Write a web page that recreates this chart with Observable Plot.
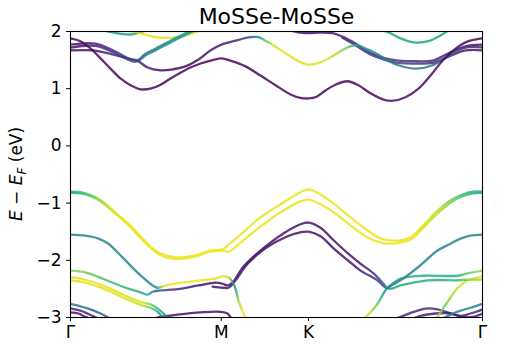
<!DOCTYPE html>
<html><head><meta charset="utf-8">
<script src="https://cdn.jsdelivr.net/npm/d3@7"></script>
<script src="https://cdn.jsdelivr.net/npm/@observablehq/plot@0.6"></script>
<style>body{margin:0;background:#fff} svg{font-family:"DejaVu Sans",sans-serif}</style>
</head><body><div id="chart"></div>
<script>
const title = "MoSSe-MoSSe";
const kTicks = [0, 0.577, 0.911, 1.577];
const kLabels = ["Γ", "M", "K", "Γ"];
const eTicks = [-3, -2, -1, 0, 1, 2];

// each band: [k, E (eV), projection weight 0..1]
const c1 = [[0,1.88,0.02],[0.038,1.83,0.02],[0.077,1.70,0.02],[0.115,1.53,0.02],[0.153,1.35,0.02],[0.191,1.18,0.02],[0.230,1.06,0.02],[0.268,0.99,0.02],[0.306,1.00,0.02],[0.345,1.07,0.02],[0.383,1.18,0.02],[0.421,1.28,0.02],[0.459,1.37,0.02],[0.498,1.44,0.02],[0.536,1.49,0.02],[0.578,1.53,0.02],[0.612,1.49,0.02],[0.670,1.39,0.02],[0.727,1.23,0.02],[0.785,1.06,0.02],[0.842,0.90,0.02],[0.880,0.84,0.02],[0.911,0.83,0.02],[0.942,0.86,0.02],[0.976,0.97,0.02],[1.014,1.07,0.02],[1.060,1.13,0.02],[1.102,1.06,0.02],[1.148,0.92,0.02],[1.198,0.81,0.04],[1.236,0.79,0.05],[1.282,0.85,0.05],[1.332,1.00,0.04],[1.378,1.23,0.03],[1.424,1.49,0.02],[1.474,1.70,0.02],[1.512,1.81,0.02],[1.550,1.86,0.02],[1.577,1.88,0.02]];
const c2 = [[0,1.67,0.05],[0.088,1.67,0.05],[0.142,1.62,0.1],[0.218,1.53,0.15],[0.256,1.49,0.15],[0.295,1.37,0.05],[0.345,1.32,0.03],[0.394,1.34,0.03],[0.440,1.39,0.03],[0.490,1.51,0.03],[0.536,1.67,0.05],[0.578,1.77,0.08],[0.632,1.84,0.1],[0.689,1.90,0.25],[0.720,1.90,0.5],[0.746,1.84,0.75],[0.773,1.77,0.92],[0.823,1.62,0.95],[0.873,1.48,0.95],[0.911,1.42,0.95],[0.957,1.46,0.95],[1.014,1.60,0.9],[1.060,1.72,0.75],[1.099,1.76,0.6],[1.129,1.70,0.5],[1.156,1.65,0.45],[1.217,1.49,0.4],[1.255,1.41,0.4],[1.321,1.35,0.4],[1.386,1.41,0.38],[1.447,1.58,0.3],[1.512,1.72,0.15],[1.577,1.72,0.08]];
const c3 = [[0,1.77,0.05],[0.096,1.79,0.08],[0.172,1.65,0.15],[0.249,1.49,0.33],[0.287,1.61,0.42],[0.325,1.70,0.45],[0.383,1.84,0.5],[0.440,1.97,0.55],[0.467,2.02,0.6]];
const c3b = [[0,1.72,0.05],[0.096,1.75,0.08],[0.172,1.62,0.15],[0.249,1.47,0.33],[0.287,1.58,0.42],[0.325,1.67,0.45],[0.383,1.81,0.5],[0.440,1.94,0.55],[0.475,2.02,0.6]];
const c4 = [[0.820,2.04,0.05],[0.880,1.98,0.05],[0.911,1.97,0.05],[0.949,1.98,0.05],[1.003,1.97,0.08],[1.041,1.91,0.1],[1.091,1.79,0.15],[1.148,1.63,0.2],[1.206,1.53,0.2],[1.255,1.49,0.15],[1.321,1.48,0.12],[1.386,1.49,0.1],[1.447,1.62,0.08],[1.512,1.74,0.05],[1.577,1.77,0.05]];
const c4b = [[1.041,1.89,0.1],[1.091,1.76,0.15],[1.148,1.60,0.15],[1.206,1.50,0.2],[1.255,1.45,0.2],[1.321,1.44,0.15],[1.386,1.45,0.12],[1.447,1.56,0.1],[1.512,1.67,0.05],[1.577,1.67,0.05]];
const t1 = [[0.211,2.02,0.95],[0.268,1.97,0.95],[0.325,1.90,0.95],[0.383,1.89,0.95],[0.440,1.93,0.95],[0.486,2.00,0.95],[0.517,2.05,0.95]];
const t2 = [[0.096,2.05,0.55],[0.145,2.00,0.55],[0.191,1.96,0.55],[0.237,1.95,0.55],[0.276,2.00,0.55],[0.306,2.05,0.55]];
const t4 = [[1.187,2.03,0.58],[1.225,1.97,0.58],[1.263,1.88,0.58],[1.313,1.81,0.58],[1.370,1.83,0.58],[1.416,1.93,0.58],[1.447,2.02,0.58]];

const v1a = [[0,-0.80,0.62],[0.038,-0.81,0.66],[0.077,-0.86,0.74],[0.115,-0.95,0.85],[0.153,-1.09,0.93],[0.191,-1.24,0.96],[0.218,-1.34,0.97],[0.268,-1.58,0.97],[0.306,-1.76,0.97],[0.345,-1.88,0.97],[0.410,-1.95,0.97],[0.471,-1.92,0.97],[0.536,-1.83,0.97],[0.582,-1.81,0.97],[0.601,-1.74,0.97],[0.651,-1.55,0.97],[0.727,-1.25,0.97],[0.815,-0.99,0.97],[0.880,-0.81,0.97],[0.911,-0.76,0.97],[0.957,-0.85,0.97],[1.007,-1.01,0.97],[1.072,-1.25,0.97],[1.137,-1.48,0.97],[1.187,-1.62,0.97],[1.225,-1.65,0.97],[1.263,-1.65,0.97],[1.301,-1.60,0.97],[1.351,-1.39,0.95],[1.405,-1.13,0.9],[1.455,-0.95,0.8],[1.500,-0.85,0.7],[1.539,-0.80,0.63],[1.577,-0.80,0.6]];
const v1b = [[0,-0.82,0.62],[0.038,-0.83,0.66],[0.077,-0.88,0.74],[0.115,-0.97,0.85],[0.153,-1.11,0.93],[0.191,-1.26,0.96],[0.218,-1.37,0.97],[0.268,-1.61,0.97],[0.306,-1.78,0.97],[0.345,-1.91,0.97],[0.410,-1.98,0.97],[0.471,-1.94,0.97],[0.536,-1.85,0.97],[0.582,-1.83,0.97],[0.605,-1.85,0.97],[0.651,-1.69,0.97],[0.727,-1.41,0.97],[0.815,-1.13,0.97],[0.880,-0.97,0.97],[0.911,-0.94,0.97],[0.957,-1.02,0.97],[1.007,-1.16,0.97],[1.072,-1.39,0.97],[1.137,-1.60,0.97],[1.187,-1.69,0.97],[1.225,-1.71,0.97],[1.263,-1.69,0.97],[1.301,-1.64,0.97],[1.351,-1.43,0.95],[1.405,-1.18,0.9],[1.455,-0.99,0.8],[1.500,-0.88,0.7],[1.539,-0.83,0.63],[1.577,-0.82,0.6]];
const v2 = [[0,-1.55,0.45],[0.057,-1.57,0.45],[0.107,-1.62,0.45],[0.145,-1.71,0.45],[0.199,-1.95,0.45],[0.260,-2.23,0.45],[0.314,-2.44,0.45],[0.333,-2.48,0.5],[0.352,-2.46,0.9],[0.383,-2.42,0.97],[0.429,-2.39,0.97],[0.498,-2.35,0.97],[0.555,-2.32,0.97],[0.582,-2.28,0.97],[0.605,-2.30,0.9],[0.624,-2.41,0.5],[0.635,-2.55,0.6],[0.643,-2.70,0.85],[0.658,-2.88,0.97],[0.670,-3.00,0.97],[0.678,-3.05,0.97]];
const v2r = [[1.122,-3.02,0.95],[1.148,-2.91,0.9],[1.175,-2.76,0.75],[1.198,-2.58,0.55],[1.213,-2.48,0.45],[1.236,-2.42,0.45],[1.263,-2.35,0.45],[1.328,-2.13,0.45],[1.405,-1.83,0.45],[1.455,-1.71,0.45],[1.493,-1.62,0.45],[1.531,-1.57,0.45],[1.577,-1.55,0.45]];
const v3a = [[0,-2.30,0.95],[0.057,-2.34,0.95],[0.134,-2.46,0.95],[0.211,-2.62,0.95],[0.276,-2.74,0.95],[0.306,-2.77,0.8],[0.333,-2.84,0.65],[0.356,-2.93,0.55],[0.375,-3.02,0.5]];
const v3b = [[0,-2.35,0.95],[0.057,-2.39,0.95],[0.134,-2.51,0.95],[0.211,-2.67,0.95],[0.276,-2.79,0.9],[0.306,-2.83,0.75],[0.333,-2.90,0.6],[0.352,-2.99,0.5],[0.364,-3.04,0.5]];
const v4 = [[0,-2.18,0.82],[0.057,-2.21,0.78],[0.134,-2.34,0.7],[0.211,-2.48,0.65],[0.268,-2.56,0.62],[0.295,-2.60,0.62],[0.314,-2.55,0.45],[0.337,-2.53,0.3],[0.402,-2.51,0.12],[0.490,-2.44,0.05],[0.555,-2.39,0.05],[0.582,-2.41,0.05],[0.601,-2.44,0.05],[0.620,-2.39,0.1],[0.662,-2.11,0.05],[0.727,-1.83,0.05],[0.815,-1.53,0.05],[0.880,-1.37,0.05],[0.911,-1.34,0.05],[0.957,-1.43,0.05],[1.007,-1.65,0.05],[1.072,-1.92,0.05],[1.110,-2.06,0.08],[1.160,-2.23,0.12],[1.198,-2.41,0.3],[1.213,-2.48,0.45],[1.233,-2.41,0.55],[1.263,-2.32,0.62],[1.351,-2.27,0.62],[1.481,-2.27,0.62],[1.520,-2.23,0.75],[1.577,-2.18,0.85]];
const v5 = [[0.544,-2.46,0.05],[0.582,-2.48,0.05],[0.605,-2.48,0.08],[0.632,-2.35,0.1],[0.678,-2.06,0.05],[0.746,-1.79,0.05],[0.831,-1.58,0.05],[0.880,-1.51,0.05],[0.911,-1.50,0.05],[0.957,-1.58,0.05],[1.007,-1.79,0.05],[1.072,-2.04,0.05],[1.110,-2.18,0.08],[1.175,-2.35,0.15],[1.206,-2.48,0.35],[1.233,-2.49,0.55],[1.263,-2.44,0.62],[1.367,-2.35,0.62],[1.481,-2.35,0.65],[1.520,-2.34,0.8],[1.577,-2.34,0.9]];
const b1 = [[1.233,-3.04,0.1],[1.263,-2.99,0.12],[1.328,-2.88,0.12],[1.367,-2.84,0.12],[1.405,-2.86,0.12],[1.443,-2.91,0.12],[1.493,-2.97,0.12],[1.531,-2.93,0.12],[1.577,-2.86,0.12]];
const b2 = [[1.301,-3.04,0.08],[1.340,-2.97,0.08],[1.397,-2.93,0.08],[1.455,-2.93,0.08],[1.500,-2.99,0.08],[1.539,-2.99,0.08],[1.577,-2.93,0.08]];
const b3 = [[1.416,-3.04,0.35],[1.455,-2.95,0.4],[1.493,-2.88,0.45],[1.531,-2.83,0.45],[1.577,-2.76,0.45]];
const b4 = [[1.397,-3.04,0.95],[1.428,-2.83,0.75],[1.455,-2.65,0.85],[1.481,-2.49,0.9],[1.512,-2.37,0.95],[1.543,-2.32,0.95],[1.577,-2.28,0.95]];
const b5 = [[0,-2.76,0.42],[0.065,-2.84,0.35],[0.115,-2.93,0.3],[0.153,-3.02,0.25]];
const b6 = [[0,-2.84,0.1],[0.038,-2.88,0.1],[0.084,-2.97,0.1],[0.107,-3.02,0.1]];
const b7 = [[0,-2.91,0.05],[0.031,-2.93,0.05],[0.057,-2.99,0.05],[0.077,-3.02,0.05]];
const b8 = [[0.306,-3.04,0.1],[0.345,-2.99,0.05],[0.410,-2.95,0.05],[0.498,-2.91,0.05],[0.574,-2.90,0.05],[0.601,-2.93,0.05],[0.616,-3.02,0.05]];

const bands = {b1,b2,b3,b4,b5,b6,b7,b8,v5,v4,v3b,v3a,v2r,v2,v1b,v1a,t4,t2,t1,c4b,c4,c3b,c3,c2,c1};
const names = Object.keys(bands);
const kMax = kTicks[kTicks.length - 1];
const color = Plot.scale({color: {type: "linear", scheme: "viridis", domain: [0, 1]}});

const plot = Plot.plot({
  width: 505, height: 350,
  marginLeft: 70, marginRight: 23, marginTop: 31, marginBottom: 33,
  style: {fontFamily: "'DejaVu Sans', sans-serif", fontSize: "17px", color: "black", background: "white"},
  x: {domain: [0, kMax]},
  y: {domain: [-3, 2]},
  marks: [
    ...names.map(n => Plot.line(bands[n], {
      x: d => d[0], y: d => d[1],
      stroke: `url(#grad-${n})`, strokeWidth: 2.3, strokeOpacity: 0.85,
      curve: "catmull-rom", clip: true
    })),
    Plot.frame({stroke: "black", strokeWidth: 1.1}),
    Plot.axisX({ticks: kTicks, tickFormat: d => kLabels[kTicks.indexOf(d)], tickSize: 4, tickPadding: 4, fontSize: 17, label: null}),
    Plot.axisY({ticks: eTicks, tickFormat: d => (d < 0 ? "\u2212" + Math.abs(d) : String(d)), tickSize: 4, tickPadding: 5, fontSize: 17, label: null}),
    Plot.text([title], {frameAnchor: "top", dy: -8, lineAnchor: "bottom", fontSize: 22, fill: "black"})
  ]
});

const svg = d3.select(plot);
const xs = plot.scale("x"), ys = plot.scale("y");
const defs = svg.insert("defs", ":first-child");
for (const n of names) {
  const g = defs.append("linearGradient").attr("id", "grad-" + n)
    .attr("gradientUnits", "userSpaceOnUse")
    .attr("x1", xs.apply(0)).attr("x2", xs.apply(kMax)).attr("y1", 0).attr("y2", 0);
  for (const [k, , w] of bands[n]) {
    g.append("stop").attr("offset", k / kMax).attr("stop-color", color.apply(w));
  }
}
const yMid = (ys.apply(2) + ys.apply(-3)) / 2;
const lab = svg.append("text")
  .attr("transform", `translate(${xs.apply(0) - 48},${yMid}) rotate(-90)`)
  .attr("text-anchor", "middle").attr("font-size", 17).attr("fill", "black");
lab.append("tspan").attr("font-style", "italic").text("E");
lab.append("tspan").text(" \u2212 ");
lab.append("tspan").attr("font-style", "italic").text("E");
lab.append("tspan").attr("font-style", "italic").attr("font-size", 12).attr("dy", 4).text("F");
lab.append("tspan").attr("dy", -4).text(" (eV)");

document.getElementById("chart").appendChild(plot);
</script>
</body></html>
